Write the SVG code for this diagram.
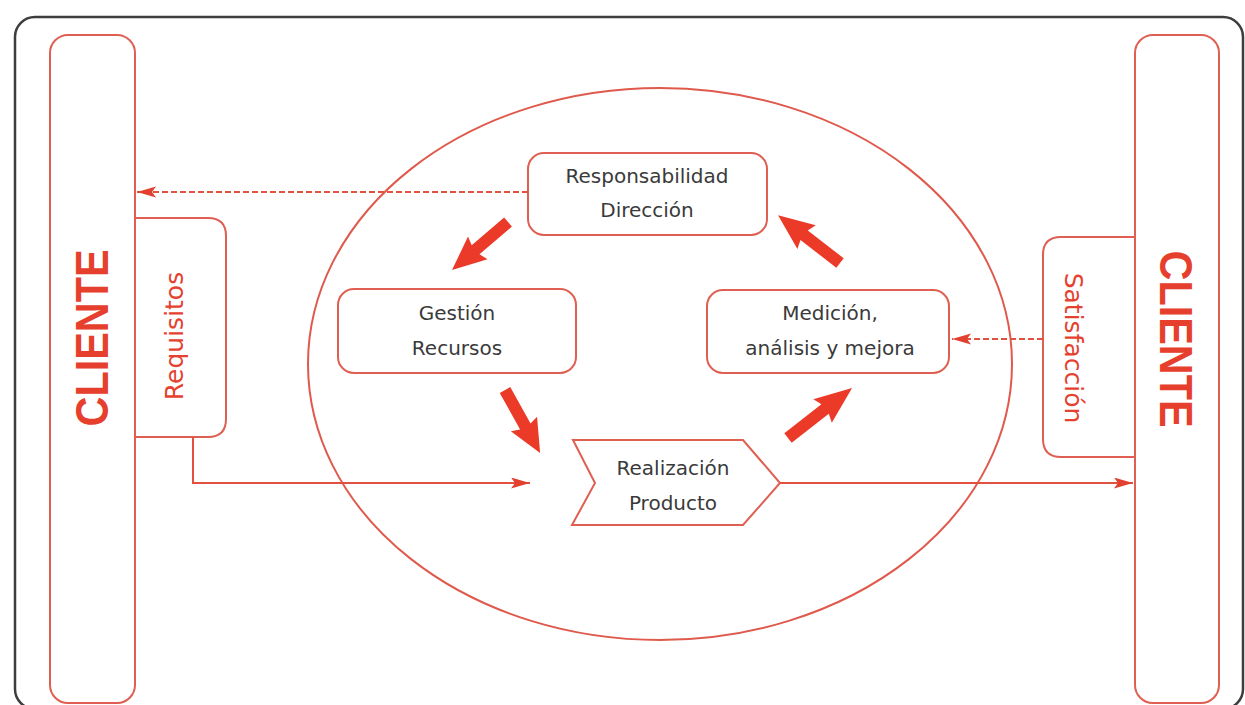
<svg xmlns="http://www.w3.org/2000/svg" xmlns:xlink="http://www.w3.org/1999/xlink" width="1245" height="705" viewBox="0 0 1245 705">
<style>
.frame{fill:#fff;stroke:#3d3d3d;stroke-width:2.5}
.shape{fill:#fff;stroke:#df5f52;stroke-width:2}
.tab{fill:none;stroke:#df5f52;stroke-width:2}
.ell{fill:none;stroke:#df5a4c;stroke-width:2}
.line{fill:none;stroke:#e2503f;stroke-width:2}
.dash{fill:none;stroke:#e2503f;stroke-width:2;stroke-dasharray:6 3}
.blk{fill:#ec3a28}
.lbl{font-family:"DejaVu Sans","Open Sans",sans-serif;font-size:20px;fill:#3a3a3a;text-anchor:middle}
.side{font-family:"DejaVu Sans","Open Sans",sans-serif;font-size:25px;fill:#e5412f;text-anchor:middle}
.cli{font-family:"Liberation Sans",Arial,sans-serif;font-weight:bold;font-size:47px;fill:#e63f2d;text-anchor:middle}
</style>
<defs>
<marker id="ah" markerUnits="userSpaceOnUse" markerWidth="20" markerHeight="12" refX="19" refY="5.5" orient="auto">
<path d="M0,0 L19,5.5 L0,11 L4,5.5 Z" fill="#e2402f"/>
</marker>
<path id="barrow" d="M0,-6 L44,-6 L41,-15 L76,0 L41,15 L44,6 L0,6 Z"/>
</defs>
<rect class="frame" x="15" y="17" width="1228" height="692" rx="20"/>
<g id="ellipse"><ellipse class="ell" cx="660" cy="364" rx="352" ry="276"/></g>
<g id="cliente-left">
<rect class="shape" x="50" y="35" width="85" height="668" rx="18"/>
<text class="cli" transform="translate(108,338) rotate(-90)" textLength="177" lengthAdjust="spacingAndGlyphs">CLIENTE</text>
</g>
<g id="requisitos">
<path class="tab" d="M135,218 H208 Q226,218 226,236 V419 Q226,437 208,437 H135"/>
<text class="side" transform="translate(183,336) rotate(-90)">Requisitos</text>
</g>
<g id="cliente-right">
<rect class="shape" x="1135" y="35" width="84" height="668" rx="18"/>
<text class="cli" transform="translate(1160,339) rotate(90)" textLength="177" lengthAdjust="spacingAndGlyphs">CLIENTE</text>
</g>
<g id="satisfaccion">
<path class="tab" d="M1135,237 H1061 Q1043,237 1043,255 V439 Q1043,457 1061,457 H1135"/>
<text class="side" transform="translate(1065,348) rotate(90)">Satisfacción</text>
</g>
<g id="responsabilidad">
<rect class="shape" x="528" y="153" width="239" height="82" rx="16"/>
<text class="lbl" x="647" y="183">Responsabilidad</text>
<text class="lbl" x="647" y="217">Dirección</text>
</g>
<g id="gestion">
<rect class="shape" x="338" y="289" width="238" height="84" rx="16"/>
<text class="lbl" x="457" y="320">Gestión</text>
<text class="lbl" x="457" y="355">Recursos</text>
</g>
<g id="medicion">
<rect class="shape" x="707" y="290" width="242" height="83" rx="16"/>
<text class="lbl" x="830" y="320">Medición,</text>
<text class="lbl" x="830" y="355">análisis y mejora</text>
</g>
<g id="realizacion">
<polygon class="shape" points="573,440 743,440 780,483 743,525 572,525 595,483"/>
<text class="lbl" x="673" y="475">Realización</text>
<text class="lbl" x="673" y="510">Producto</text>
</g>
<g id="connectors">
<line class="dash" x1="528" y1="192" x2="137" y2="192" marker-end="url(#ah)"/>
<line class="dash" x1="1043" y1="339" x2="952" y2="339" marker-end="url(#ah)"/>
<polyline class="line" points="193,437 193,483 530,483" marker-end="url(#ah)"/>
<line class="line" x1="780" y1="483" x2="1133" y2="483" marker-end="url(#ah)"/>
<use href="#barrow" class="blk" transform="translate(508,222) rotate(139.4) scale(0.97,1)"/>
<use href="#barrow" class="blk" transform="translate(505,390) rotate(60.9) scale(0.95,1)"/>
<use href="#barrow" class="blk" transform="translate(788,438) rotate(-38) scale(1.07,1)"/>
<use href="#barrow" class="blk" transform="translate(840,263) rotate(-142.3) scale(1.03,1)"/>
</g>
</svg>
